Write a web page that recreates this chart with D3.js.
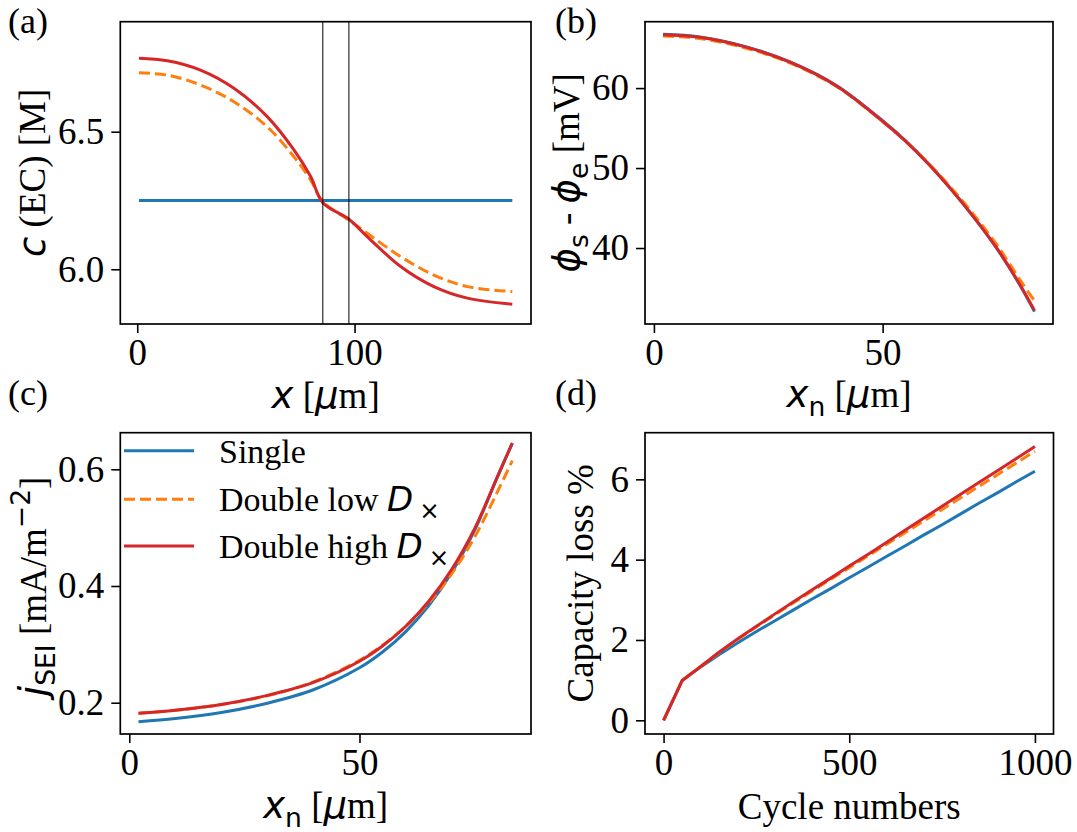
<!DOCTYPE html>
<html>
<head>
<meta charset="utf-8">
<script src="https://cdn.jsdelivr.net/npm/d3@7"></script>
<style>
  html, body { margin: 0; padding: 0; background: #fff; }
  svg { display: block; }
</style>
</head>
<body>
<svg id="fig" width="1077" height="832"></svg>
<script>
// ---- data ----
const seriesNames = ['Single', 'Double low D', 'Double high D'];
const seriesColors = ['#1f77b4', '#ff7f0e', '#d62728'];

// (a) EC concentration across the cell
const xCell = [0.8, 13.8, 29.1, 44.5, 59.8, 72.1, 79.8, 85.4, 97.4, 105.8, 121.2, 136.5, 151.9, 172.6];
const cSingle = [6.25, 6.25, 6.25, 6.25, 6.25, 6.25, 6.25, 6.25, 6.25, 6.25, 6.25, 6.25, 6.25, 6.25];
const cLowD = [6.714, 6.706, 6.670, 6.609, 6.518, 6.409, 6.324, 6.246, 6.179, 6.131, 6.046, 5.979, 5.937, 5.919];
const cHighD = [6.767, 6.758, 6.724, 6.658, 6.555, 6.434, 6.337, 6.242, 6.182, 6.119, 6.010, 5.937, 5.895, 5.873];
const sepBounds = [85.4, 97.4];

// (b), (c) across the negative electrode
const xNeg = [2, 10, 20, 30, 40, 50, 55, 60, 65, 70, 75, 80, 83.2];
const phiSingle = [66.72, 66.40, 65.19, 63.22, 60.30, 55.92, 53.43, 50.57, 47.35, 43.82, 39.93, 35.38, 32.05];
const phiLowD = [66.50, 66.20, 65.02, 63.08, 60.16, 55.82, 53.38, 50.62, 47.52, 44.12, 40.38, 36.05, 33.40];
const phiHighD = [66.67, 66.36, 65.15, 63.18, 60.24, 55.85, 53.35, 50.50, 47.30, 43.80, 39.95, 35.45, 32.20];

const jSingle = [0.1675, 0.1729, 0.1832, 0.1992, 0.2222, 0.2598, 0.2869, 0.3215, 0.3659, 0.4227, 0.4953, 0.588, 0.645];
const jLowD = [0.182, 0.1870, 0.1968, 0.2120, 0.2357, 0.2727, 0.2984, 0.3306, 0.3707, 0.4209, 0.4836, 0.562, 0.615];
const jHighD = [0.182, 0.1872, 0.1971, 0.2126, 0.2348, 0.2711, 0.2972, 0.3306, 0.3734, 0.4282, 0.4983, 0.588, 0.645];

// (d) capacity loss vs cycles
const cycles = [0, 50, 100, 150, 200, 250, 300, 350, 400, 450, 500, 550, 600, 650, 700, 750, 800, 850, 900, 950, 1000];
const lossSingle = [0, 0.99, 1.33, 1.64, 1.93, 2.21, 2.48, 2.75, 3.02, 3.28, 3.55, 3.81, 4.08, 4.34, 4.61, 4.87, 5.14, 5.41, 5.67, 5.94, 6.20];
const lossLowD = [0, 0.99, 1.34, 1.69, 2.02, 2.33, 2.63, 2.93, 3.22, 3.51, 3.80, 4.09, 4.38, 4.67, 4.96, 5.25, 5.54, 5.83, 6.12, 6.41, 6.70];
const lossHighD = [0, 0.99, 1.34, 1.70, 2.03, 2.34, 2.65, 2.95, 3.25, 3.54, 3.84, 4.13, 4.43, 4.73, 5.03, 5.33, 5.63, 5.93, 6.22, 6.52, 6.82];

// tick values
const ticksA = { x: [0, 100], y: [6.0, 6.5] };
const ticksB = { x: [0, 50], y: [40, 50, 60] };
const ticksC = { x: [0, 50], y: [0.2, 0.4, 0.6] };
const ticksD = { x: [0, 500, 1000], y: [0, 2, 4, 6] };

const SERIF = '"Liberation Serif", "Times New Roman", Times, serif';
const MATH = '"DejaVu Sans", Verdana, sans-serif';
const TICK_FS = 37, LABEL_FS = 37;

const svg = d3.select('#fig');

// write text made of pieces (serif / mathtext, sub / superscripts)
function richText(sel, parts, size) {
    let shift = 0;
    parts.forEach(p => {
        const ts = sel.append('tspan').text(p.t);
        let target = 0, fs = size;
        if (p.sub) { target = size * 0.24; fs = size * 0.72; }
        if (p.sup) { target = -size * 0.42; fs = size * 0.72; }
        ts.attr('font-size', fs)
          .attr('font-family', p.m ? MATH : SERIF)
          .attr('font-style', p.i ? 'italic' : 'normal');
        if (p.dx) ts.attr('dx', p.dx);
        if (target !== shift) { ts.attr('dy', target - shift); shift = target; }
    });
}

function makePanel(box, xDom, yDom, ticks, yFmt) {
    const g = svg.append('g');
    const x = d3.scaleLinear().domain(xDom).range([box.left, box.right]);
    const y = d3.scaleLinear().domain(yDom).range([box.bottom, box.top]);

    const xAxis = g.append('g')
        .attr('transform', `translate(0,${box.bottom})`)
        .call(d3.axisBottom(x).tickValues(ticks.x).tickSize(9).tickPadding(5).tickFormat(d3.format('d')));
    const yAxis = g.append('g')
        .attr('transform', `translate(${box.left},0)`)
        .call(d3.axisLeft(y).tickValues(ticks.y).tickSize(9).tickPadding(7).tickFormat(yFmt));
    [xAxis, yAxis].forEach(a => {
        a.select('.domain').remove();
        a.selectAll('.tick line').attr('stroke', '#000').attr('stroke-width', 1.6);
        a.selectAll('.tick text')
            .attr('font-family', SERIF)
            .attr('font-size', TICK_FS)
            .attr('fill', '#000');
    });
    xAxis.selectAll('.tick text').attr('dy', '0.74em');

    const plot = g.append('g');
    g.append('rect')
        .attr('x', box.left).attr('y', box.top)
        .attr('width', box.right - box.left).attr('height', box.bottom - box.top)
        .attr('fill', 'none').attr('stroke', '#000').attr('stroke-width', 1.7);
    return { g, plot, x, y };
}

function drawSeries(p, xs, ys, i, curve) {
    const line = d3.line()
        .x((d, k) => p.x(xs[k]))
        .y(d => p.y(d))
        .curve(curve || d3.curveCatmullRom.alpha(0.5));
    p.plot.append('path')
        .datum(ys)
        .attr('d', line)
        .attr('fill', 'none')
        .attr('stroke', seriesColors[i])
        .attr('stroke-width', 3)
        .attr('stroke-linejoin', 'round')
        .attr('stroke-dasharray', i === 1 ? '11,5' : null);
}

function yLabel(x, yMid, parts) {
    const t = svg.append('text')
        .attr('transform', `translate(${x},${yMid}) rotate(-90)`)
        .attr('text-anchor', 'middle')
        .attr('fill', '#000');
    richText(t, parts, LABEL_FS);
}
function xLabel(xMid, y, parts) {
    const t = svg.append('text')
        .attr('x', xMid).attr('y', y)
        .attr('text-anchor', 'middle')
        .attr('fill', '#000');
    richText(t, parts, LABEL_FS);
}
function panelTag(x, y, s) {
    svg.append('text').attr('x', x).attr('y', y)
        .attr('font-family', SERIF).attr('font-size', 36).text(s);
}

const boxA = { left: 120.3, right: 531, top: 21.7, bottom: 324 };
const boxB = { left: 645, right: 1053, top: 21.7, bottom: 324 };
const boxC = { left: 120.3, right: 531, top: 432.7, bottom: 734 };
const boxD = { left: 645, right: 1053.5, top: 432.7, bottom: 734 };

// (a)
const pA = makePanel(boxA, [-7.8, 181.2], [5.801, 6.900], ticksA, d3.format('.1f'));
[cSingle, cLowD, cHighD].forEach((s, i) => drawSeries(pA, xCell, s, i));
sepBounds.forEach(v => {
    pA.plot.append('line')
        .attr('x1', pA.x(v)).attr('x2', pA.x(v))
        .attr('y1', boxA.top).attr('y2', boxA.bottom)
        .attr('stroke', '#000').attr('stroke-width', 1);
});
yLabel(45, (boxA.top + boxA.bottom) / 2, [
    { t: 'c', m: true, i: true }, { t: ' (EC) [M]' }
]);
xLabel((boxA.left + boxA.right) / 2, 408, [
    { t: 'x', m: true, i: true }, { t: ' [' }, { t: 'μ', m: true, i: true }, { t: 'm]' }
]);

// (b)
const pB = makePanel(boxB, [-1.95, 87.25], [30.5, 68.3], ticksB, d3.format('d'));
[phiSingle, phiLowD, phiHighD].forEach((s, i) => drawSeries(pB, xNeg, s, i));
yLabel(579, (boxB.top + boxB.bottom) / 2, [
    { t: 'ϕ', m: true, i: true }, { t: 's', m: true, sub: true }, { t: ' - ' },
    { t: 'ϕ', m: true, i: true }, { t: 'e', m: true, sub: true }, { t: ' [mV]' }
]);
xLabel((boxB.left + boxB.right) / 2, 407, [
    { t: 'x', m: true, i: true }, { t: 'n', m: true, sub: true }, { t: ' [' },
    { t: 'μ', m: true, i: true }, { t: 'm]' }
]);

// (c)
const pC = makePanel(boxC, [-1.95, 87.25], [0.1464, 0.6627], ticksC, d3.format('.1f'));
[jSingle, jLowD, jHighD].forEach((s, i) => drawSeries(pC, xNeg, s, i));
yLabel(46, (boxC.top + boxC.bottom) / 2 + 3, [
    { t: 'j', m: true, i: true }, { t: 'SEI', m: true, sub: true }, { t: ' [mA/m' },
    { t: '−2', m: true, sup: true }, { t: ']' }
]);
xLabel((boxC.left + boxC.right) / 2, 818, [
    { t: 'x', m: true, i: true }, { t: 'n', m: true, sub: true }, { t: ' [' },
    { t: 'μ', m: true, i: true }, { t: 'm]' }
]);

// legend in (c)
const legY = [450.7, 499.3, 546];
seriesNames.forEach((name, i) => {
    svg.append('line')
        .attr('x1', 124).attr('x2', 194)
        .attr('y1', legY[i]).attr('y2', legY[i])
        .attr('stroke', seriesColors[i]).attr('stroke-width', 3)
        .attr('stroke-dasharray', i === 1 ? '11,5' : null);
    const t = svg.append('text').attr('x', 219).attr('y', legY[i] + 12).attr('fill', '#000');
    if (i === 0) {
        richText(t, [{ t: name }], 34);
    } else {
        richText(t, [
            { t: name.slice(0, -1) }, { t: 'D', m: true, i: true },
            { t: '×', m: true, sub: true, dx: 6 }
        ], 34);
    }
});

// (d)
const pD = makePanel(boxD, [-50, 1050], [-0.341, 7.161], ticksD, d3.format('d'));
[lossSingle, lossLowD, lossHighD].forEach((s, i) => drawSeries(pD, cycles, s, i, d3.curveLinear));
yLabel(593, (boxD.top + boxD.bottom) / 2, [{ t: 'Capacity loss %' }]);
xLabel((boxD.left + boxD.right) / 2, 819, [{ t: 'Cycle numbers' }]);

panelTag(8, 33, '(a)');
panelTag(555, 33, '(b)');
panelTag(8, 405, '(c)');
panelTag(555, 405, '(d)');
</script>
</body>
</html>
